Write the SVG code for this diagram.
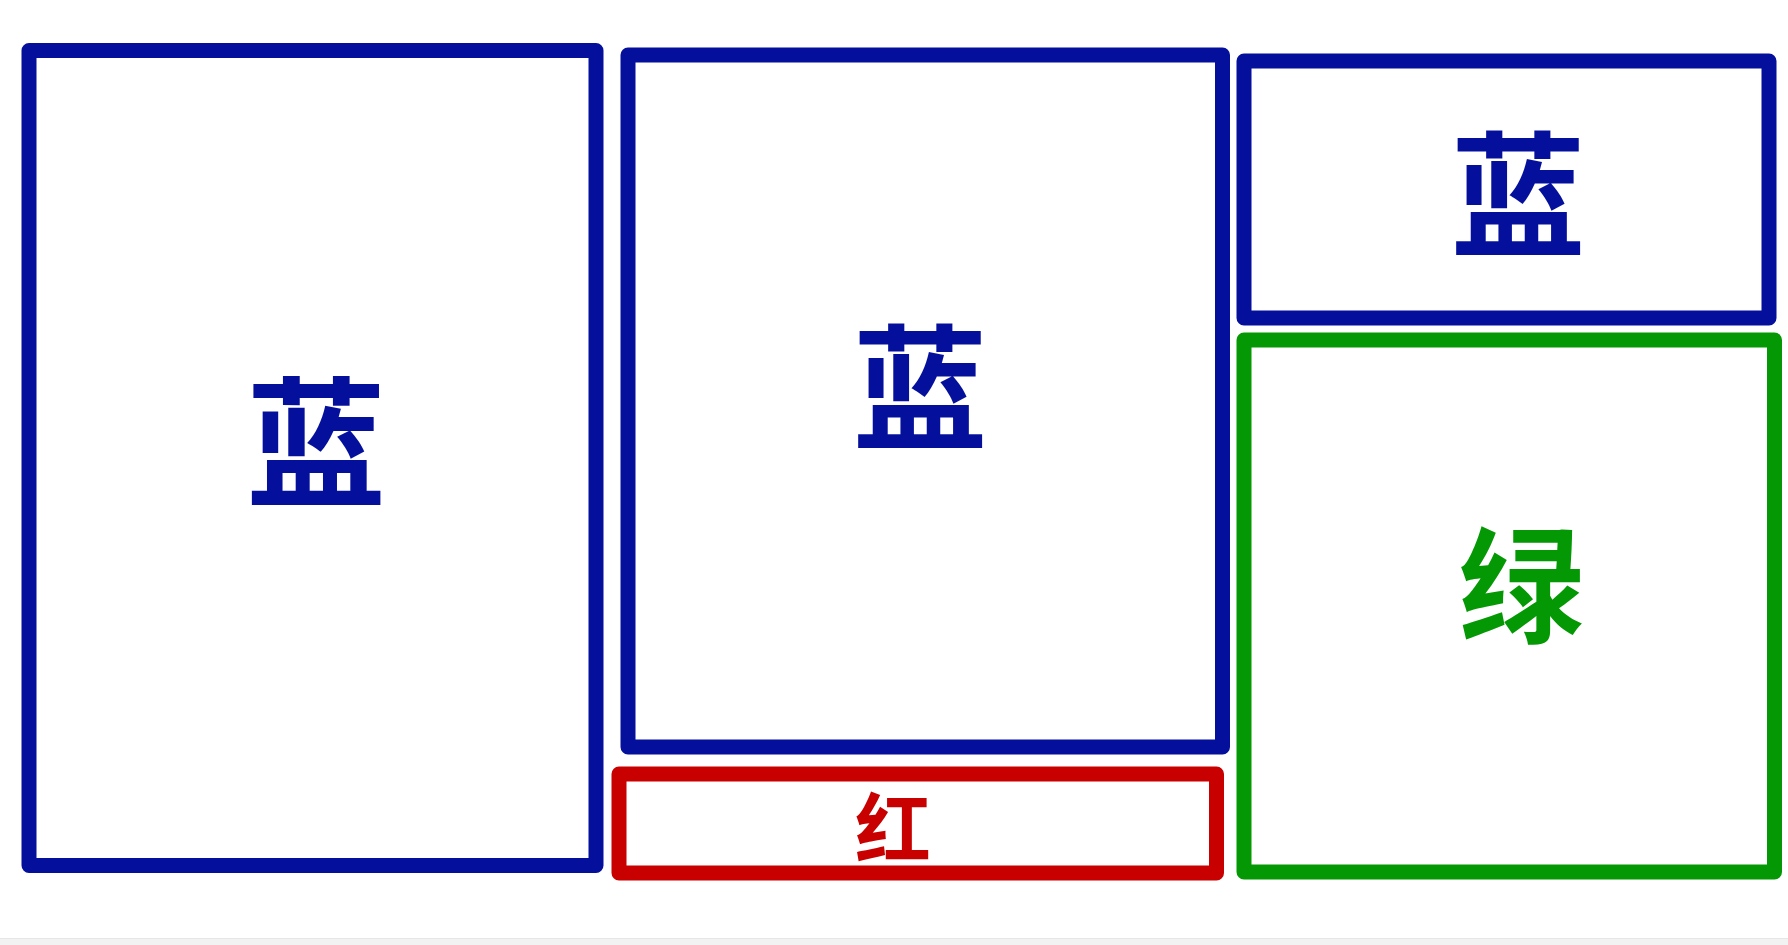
<svg xmlns="http://www.w3.org/2000/svg" width="1788" height="945" viewBox="0 0 1788 945">
<style>
.box{fill:none;stroke-width:15;stroke-linejoin:round}
.blue{stroke:#040f9c}
.green{stroke:#049904}
.red{stroke:#c80000}
.lbl{font-family:"Noto Sans CJK SC","Noto Sans CJK TC",sans-serif;font-weight:700;text-anchor:middle;dominant-baseline:central}
</style>
<rect width="1788" height="945" fill="#ffffff"/>
<rect x="0" y="938" width="1788" height="7" fill="#f2f2f2"/>
<line x1="0" y1="938.5" x2="1788" y2="938.5" stroke="#e6e6e6" stroke-width="1"/>
<g id="node-left">
<rect class="box blue" x="29" y="50.5" width="567" height="815"/>
<text class="lbl" x="316" y="434" font-size="140" fill="#040f9c">蓝</text>
</g>
<g id="node-middle">
<rect class="box blue" x="628" y="55" width="594.5" height="692"/>
<text class="lbl" x="920" y="380" font-size="135" fill="#040f9c">蓝</text>
</g>
<g id="node-topright">
<rect class="box blue" x="1244" y="61" width="525" height="257"/>
<text class="lbl" x="1518" y="187" font-size="135" fill="#040f9c">蓝</text>
</g>
<g id="node-green">
<rect class="box green" x="1244" y="340" width="530.5" height="532"/>
<text class="lbl" x="1521" y="578" font-size="125" fill="#049904">绿</text>
</g>
<g id="node-red">
<rect class="box red" x="619" y="774" width="597.5" height="99"/>
<text class="lbl" x="893" y="824" font-size="76" fill="#c80000">红</text>
</g>
<g id="connectors"></g>
</svg>
